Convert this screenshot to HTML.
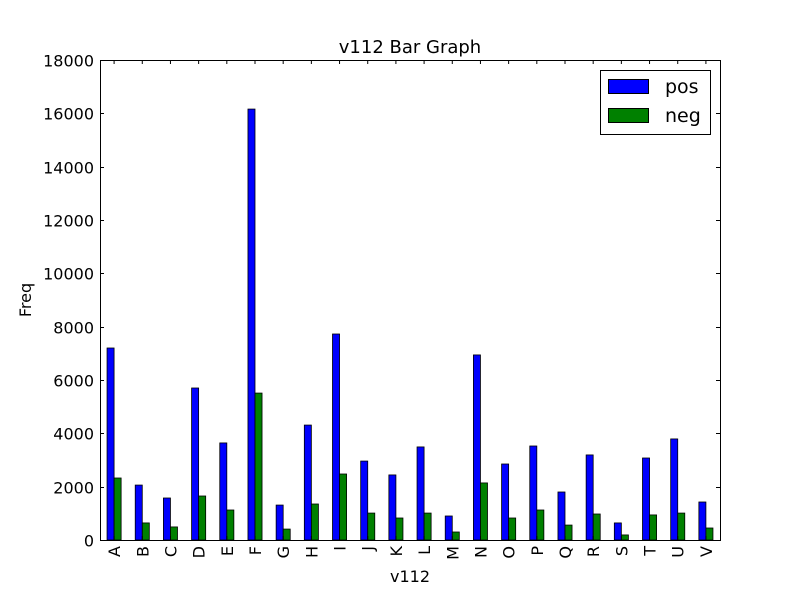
<!DOCTYPE html>
<html><head><meta charset="utf-8"><style>body{margin:0;background:#fff}svg{display:block;font-family:"DejaVu Sans","Liberation Sans",sans-serif}</style></head>
<body>
<svg id="chart" width="800" height="600">
<rect width="800" height="600" fill="#fff"/>
<g id="bars"></g>
<g id="axes"></g>
<text x="410" y="53" text-anchor="middle" font-size="18">v112 Bar Graph</text>
<text x="410" y="582" text-anchor="middle" font-size="16">v112</text>
<text transform="translate(31,300) rotate(-90)" text-anchor="middle" font-size="16">Freq</text>
<g>
<rect x="600.5" y="70.5" width="110" height="64" fill="#fff" stroke="#000"/>
<rect x="608.5" y="79.5" width="40" height="14" fill="#0000ff" stroke="#000"/>
<text x="665" y="93" font-size="19">pos</text>
<rect x="608.5" y="108.5" width="40" height="14" fill="#008000" stroke="#000"/>
<text x="665" y="122" font-size="19">neg</text>
</g>
</svg>
<script>
const categories=["A","B","C","D","E","F","G","H","I","J","K","L","M","N","O","P","Q","R","S","T","U","V"];
const posValues=[7200,2060,1575,5700,3640,16160,1310,4310,7725,2960,2440,3490,900,6940,2850,3525,1800,3190,640,3075,3790,1425];
const negValues=[2325,640,490,1650,1125,5510,410,1350,2475,1010,825,1010,300,2140,825,1125,560,975,190,940,1010,450];
const yTicks=[0,2000,4000,6000,8000,10000,12000,14000,16000,18000];
const L=100,R=720,T=60,B=540,YMAX=18000;
const ns="http://www.w3.org/2000/svg";
const y=v=>B-(v/YMAX)*(B-T);
const step=(R-L)/categories.length;
const xc=i=>L+step*(i+0.5);
const bars=document.getElementById('bars'),axes=document.getElementById('axes');
function mk(tag,attrs,parent){const e=document.createElementNS(ns,tag);for(const k in attrs)e.setAttribute(k,attrs[k]);parent.appendChild(e);return e;}
const bw=step*0.25;
categories.forEach((c,i)=>{
 const p=mk('rect',{x:xc(i)-bw,y:y(posValues[i]),width:bw,height:B-y(posValues[i]),fill:'#0000ff',stroke:'#000','stroke-width':0.8},bars);
 
 
 const n=mk('rect',{x:xc(i),y:y(negValues[i]),width:bw,height:B-y(negValues[i]),fill:'#008000',stroke:'#000','stroke-width':0.8},bars);
 
 
 const t=mk('text',{transform:`translate(${xc(i)+6},${B+6}) rotate(-90)`,'text-anchor':'end','font-size':16},axes);
 t.textContent=c;
 
 
 mk('line',{x1:xc(i),x2:xc(i),y1:B,y2:B-4,stroke:'#000'},axes);
 mk('line',{x1:xc(i),x2:xc(i),y1:T,y2:T+4,stroke:'#000'},axes);
});
yTicks.forEach(v=>{
 const yy=Math.round(y(v))+0.5;
 mk('line',{x1:L,x2:L+4,y1:yy,y2:yy,stroke:'#000'},axes);
 mk('line',{x1:R,x2:R-4,y1:yy,y2:yy,stroke:'#000'},axes);
 const t=mk('text',{x:L-6,y:yy+6,'text-anchor':'end','font-size':16},axes);
 t.textContent=v;
 
 
});
const f=mk('rect',{x:L+0.5,y:T+0.5,width:R-L,height:B-T,fill:'none',stroke:'#000'},axes);


</script>
</body></html>
